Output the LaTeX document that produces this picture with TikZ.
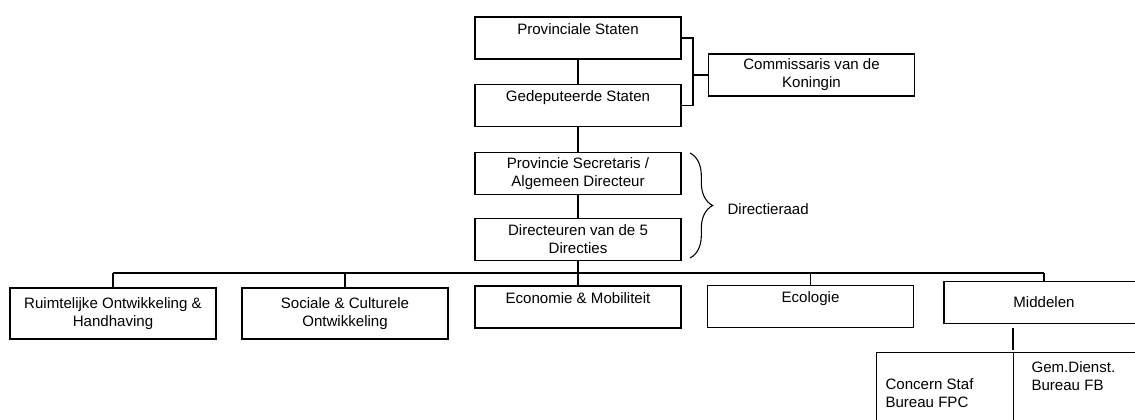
\documentclass[tikz,border=0pt]{standalone}
\usepackage{fontspec}
\setmainfont{Liberation Sans}
\usetikzlibrary{decorations.pathreplacing}

\begin{document}
\begin{tikzpicture}[x=0.75pt,y=-0.75pt,line width=0.8pt,
    every node/.style={font=\fontsize{11.3}{13.5}\selectfont,align=center,inner sep=0},
    box/.style={draw,minimum width=154.5pt,minimum height=31.5pt},
    cell/.style={draw,minimum width=102.75pt,minimum height=75pt,anchor=north west}]
  \useasboundingbox (0,0) rectangle (1135,419);
  \clip (0,0) rectangle (1135,419);
  % top of the chart
  \node[box] (ps) at (578,38) {Provinciale Staten\\\mbox{}};
  \node[box] (gs) at (578,105.5) {Gedeputeerde Staten\\\mbox{}};
  \node[box] (cvk) at (811.5,75) {Commissaris van de\\Koningin};
  \node[box] (psec) at (578,173.5) {Provincie Secretaris /\\Algemeen Directeur};
  \node[box] (dir) at (578,239.5) {Directeuren van de 5\\Directies};
  % directies
  \node[box,minimum height=38.25pt] (ro) at (113,313.5) {Ruimtelijke Ontwikkeling \&\\Handhaving};
  \node[box,minimum height=38.25pt] (soc) at (345,313.5) {Sociale \& Culturele\\Ontwikkeling};
  \node[box] (eco) at (578,307) {Economie \& Mobiliteit\\\mbox{}};
  \node[box] (ecol) at (810.5,306.5) {Ecologie\\\mbox{}};
  \node[box,minimum width=150pt] (mid) at (1044,302.5) {Middelen};
  % bureaus onder middelen
  \node[cell] (cs) at (876,352) {};
  \node[cell] (gd) at (1013,352) {};
  \node[anchor=west,align=left] (cst) at (885,393.5) {Concern Staf\\Bureau FPC};
  \node[anchor=west,align=left] (gdt) at (1031,376.5) {Gem.Dienst.\\Bureau FB};
  \node[anchor=west] (dr) at (727,209) {Directieraad};
  \coordinate (jn) at (693,75);
  \coordinate (bus) at (578,273);
  \coordinate (bt) at (690,153);
  \coordinate (bb) at (690,258);
  \coordinate (mb) at (1013,328);
  \coordinate (mt) at (1013,350);
  \draw (ps) -- (gs) (gs) -- (psec) (psec) -- (dir) (dir) -- (bus);
  \draw (ps.east) -| (jn) |- (gs.east);
  \draw (jn) -- (cvk.west);
  \draw (ro.north |- bus) -- (mid.north |- bus);
  \foreach \n in {ro,soc,eco,ecol,mid}
    \draw (\n.north) -- (\n.north |- bus);
  \draw (mb) -- (mt);
  \draw[decorate,decoration={brace,amplitude=17pt}] (bt) -- (bb);
\end{tikzpicture}
\end{document}
